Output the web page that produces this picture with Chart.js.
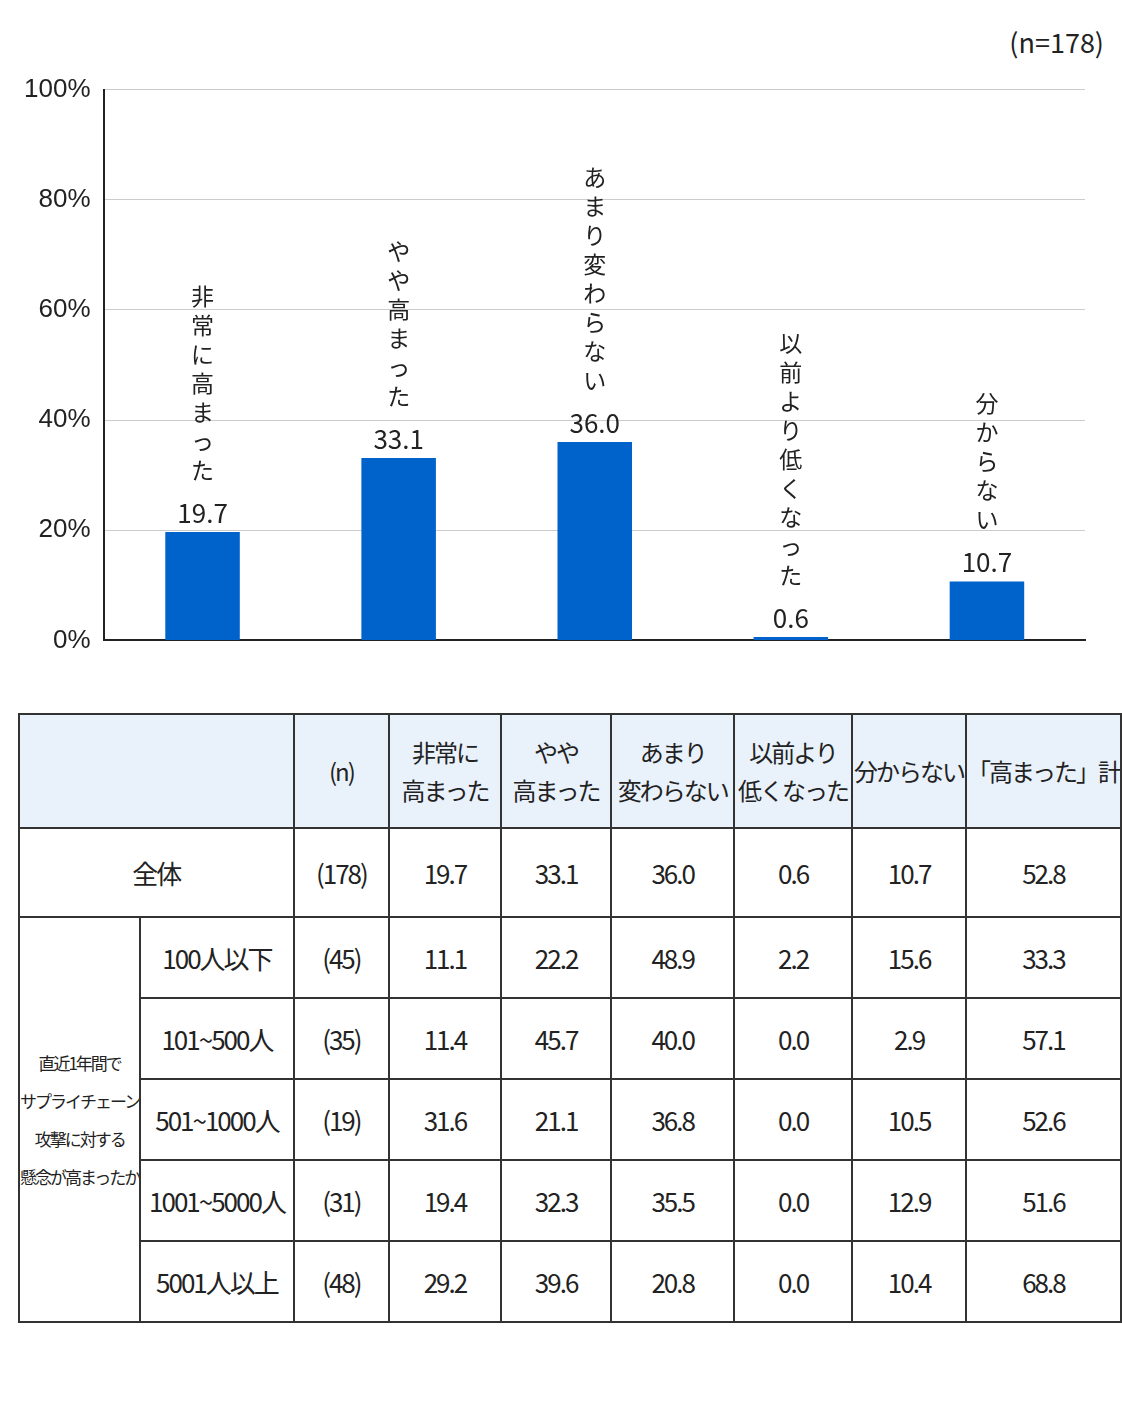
<!DOCTYPE html>
<html><head><meta charset="utf-8">
<script src="https://cdn.jsdelivr.net/npm/chart.js@4"></script>
<style>
body{margin:0;background:#fff;font-family:"Noto Sans CJK JP","Noto Sans",sans-serif;}
#wrap{position:absolute;left:0;top:60px;width:1110px;height:610px;}
#n{position:absolute;right:18px;top:22px;font-size:27px;color:#222;}
table{position:absolute;left:18px;top:713px;border-collapse:collapse;font-size:26px;color:#222;table-layout:fixed;}
td{border:2px solid #333;text-align:center;padding:0;white-space:nowrap;letter-spacing:-2px;overflow:hidden;}
thead td{background:#e9f1fb;line-height:38px;font-size:24px;}
.small{font-size:17px;line-height:38px;letter-spacing:-2px;}
</style></head><body>
<div id="n">(n=178)</div>
<div id="wrap"><canvas id="c"></canvas></div>
<table id="t"></table>
<script>
const categories=["非常に高まった","やや高まった","あまり変わらない","以前より低くなった","分からない"];
const values=[19.7,33.1,36.0,0.6,10.7];
const headers=["(n)","非常に<br>高まった","やや<br>高まった","あまり<br>変わらない","以前より<br>低くなった","分からない","「高まった」計"];
const rowLabels=["100人以下","101~500人","501~1000人","1001~5000人","5001人以上"];
const rowN=["(45)","(35)","(19)","(31)","(48)"];
const rowData=[[11.1,22.2,48.9,2.2,15.6,33.3],[11.4,45.7,40.0,0.0,2.9,57.1],[31.6,21.1,36.8,0.0,10.5,52.6],[19.4,32.3,35.5,0.0,12.9,51.6],[29.2,39.6,20.8,0.0,10.4,68.8]];
const totalN="(178)";
const totalData=[19.7,33.1,36.0,0.6,10.7,52.8];

const labelPlugin={id:'lbl',afterDatasetsDraw(ch){
 const ctx=ch.ctx,meta=ch.getDatasetMeta(0);
 ctx.save();ctx.fillStyle='#222';ctx.textAlign='center';
 meta.data.forEach((b,i)=>{
  ctx.font='26px "Noto Sans CJK JP"';ctx.textBaseline='bottom';
  ctx.fillText(values[i].toFixed(1),b.x,b.y-6);
  ctx.font='23px "Noto Sans CJK JP"';ctx.textBaseline='middle';
  const chars=[...categories[i]];let y=b.y-62;
  for(let k=chars.length-1;k>=0;k--){ctx.fillText(chars[k],b.x,y);y-=29;}
 });
 ctx.restore();}};
new Chart(document.getElementById('c'),{type:'bar',
 data:{labels:categories,datasets:[{data:values,backgroundColor:'#0063cc',barPercentage:0.38,categoryPercentage:1}]},
 options:{responsive:true,maintainAspectRatio:false,animation:false,
  layout:{padding:{top:20,right:25,left:10}},
  plugins:{legend:{display:false},tooltip:{enabled:false}},
  scales:{
   x:{ticks:{display:false},grid:{display:false},border:{color:'#222',width:2}},
   y:{min:0,max:100,ticks:{stepSize:20,callback:v=>v+'%',font:{size:26},color:'#222',padding:14},
      grid:{color:'#ccc',borderDash:[4,4],drawTicks:false},border:{color:'#222',width:2}}}},
 plugins:[labelPlugin]});

const w=[117,157,106,117,116,125,120,114,114];
let h='<colgroup>'+w.map(x=>`<col style="width:${x}px">`).join('')+'</colgroup>';
h+='<thead><tr style="height:114px"><td colspan="2"></td>'+headers.map(x=>`<td>${x}</td>`).join('')+'</tr></thead><tbody>';
h+='<tr style="height:89px"><td colspan="2">全体</td><td>'+totalN+'</td>'+totalData.map(v=>`<td>${v.toFixed(1)}</td>`).join('')+'</tr>';
rowLabels.forEach((r,i)=>{
 h+='<tr style="height:81px">';
 if(i===0)h+='<td rowspan="5" class="small">直近1年間で<br>サプライチェーン<br>攻撃に対する<br>懸念が高まったか</td>';
 h+=`<td>${r}</td><td>${rowN[i]}</td>`+rowData[i].map(v=>`<td>${v.toFixed(1)}</td>`).join('')+'</tr>';
});
document.getElementById('t').innerHTML=h+'</tbody>';
</script></body></html>
